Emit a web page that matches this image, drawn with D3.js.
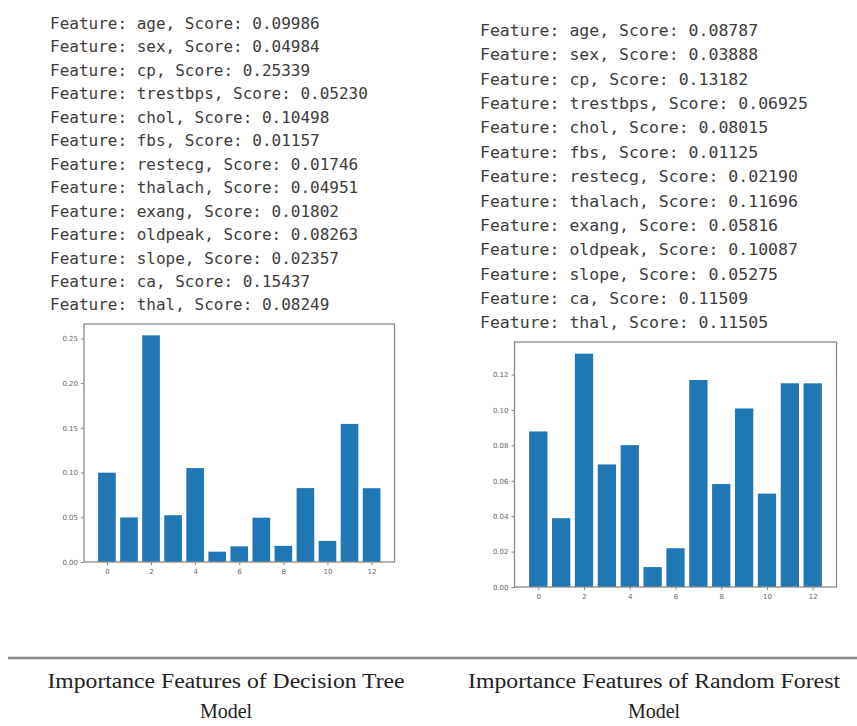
<!DOCTYPE html>
<html>
<head>
<meta charset="utf-8">
<script src="https://cdn.jsdelivr.net/npm/d3@7"></script>
<style>
  html, body { margin: 0; padding: 0; background: #fff; }
  svg { display: block; }
</style>
</head>
<body>
<svg id="chart" width="857" height="726"></svg>
<script>
// ---- data ----
const features = ["age", "sex", "cp", "trestbps", "chol", "fbs", "restecg", "thalach", "exang", "oldpeak", "slope", "ca", "thal"];
const dtScores = [0.09986, 0.04984, 0.25339, 0.05230, 0.10498, 0.01157, 0.01746, 0.04951, 0.01802, 0.08263, 0.02357, 0.15437, 0.08249];
const rfScores = [0.08787, 0.03888, 0.13182, 0.06925, 0.08015, 0.01125, 0.02190, 0.11696, 0.05816, 0.10087, 0.05275, 0.11509, 0.11505];
const dtYTicks = [0.00, 0.05, 0.10, 0.15, 0.20, 0.25];
const rfYTicks = [0.00, 0.02, 0.04, 0.06, 0.08, 0.10, 0.12];
const xTicks = [0, 2, 4, 6, 8, 10, 12];
const captions = [
  ["Importance Features of Decision Tree", "Model"],
  ["Importance Features of Random Forest", "Model"]
];

const svg = d3.select("#chart");
const fmt = d3.format(".5f");

function textBlock(scores, x, y0, step, size) {
  const g = svg.append("g");
  g.selectAll("text").data(features).join("text")
    .attr("x", x)
    .attr("y", (d, i) => y0 + i * step)
    .attr("font-family", "'DejaVu Sans Mono', monospace")
    .attr("font-size", size)
    .attr("fill", "#3c3c3c")
    .text((d, i) => `Feature: ${d}, Score: ${fmt(scores[i])}`);
}

function barChart(scores, yTicks, left, right, top, bottom, xLabelY) {
  const n = scores.length;
  const x = d3.scaleLinear().domain([-0.4 - 0.05 * (n - 1 + 0.8), n - 1 + 0.4 + 0.05 * (n - 1 + 0.8)]).range([left, right]);
  const y = d3.scaleLinear().domain([0, d3.max(scores) * 1.05]).range([bottom, top]);
  const g = svg.append("g");
  g.selectAll("rect.bar").data(scores).join("rect")
    .attr("class", "bar")
    .attr("x", (d, i) => x(i - 0.4))
    .attr("width", (d, i) => x(i + 0.4) - x(i - 0.4))
    .attr("y", d => y(d))
    .attr("height", d => y(0) - y(d))
    .attr("fill", "#1f77b4");
  // frame
  g.append("rect")
    .attr("x", left).attr("y", top)
    .attr("width", right - left).attr("height", bottom - top)
    .attr("fill", "none").attr("stroke", "#8a8a8a").attr("stroke-width", 1.3);
  const yAxis = d3.axisLeft(y).tickValues(yTicks).tickFormat(d3.format(".2f")).tickSize(3).tickPadding(3);
  const ya = g.append("g").attr("transform", `translate(${left},0)`).call(yAxis);
  ya.select(".domain").remove();
  ya.selectAll("line").attr("stroke", "#8a8a8a");
  ya.selectAll("text").attr("font-family", "'DejaVu Sans', sans-serif").attr("font-size", 7).attr("fill", "#666");
  const xAxis = d3.axisBottom(x).tickValues(xTicks).tickFormat(d3.format("d")).tickSize(3).tickPadding(4);
  const xa = g.append("g").attr("transform", `translate(0,${bottom})`).call(xAxis);
  xa.select(".domain").remove();
  xa.selectAll("line").attr("stroke", "#8a8a8a");
  xa.selectAll("text").attr("font-family", "'DejaVu Sans', sans-serif").attr("font-size", 7).attr("fill", "#666");
}

textBlock(dtScores, 50, 29, 23.45, 16);
textBlock(rfScores, 480, 36, 24.36, 16.5);

barChart(dtScores, dtYTicks, 84, 394.5, 324, 562);
barChart(rfScores, rfYTicks, 514.5, 836.5, 342, 587);

// separator line
svg.append("line")
  .attr("x1", 8).attr("x2", 857).attr("y1", 658).attr("y2", 658)
  .attr("stroke", "#8c8c8c").attr("stroke-width", 2.5);

// captions
const capPos = [{ cx: 226, w: 357 }, { cx: 654, w: 372 }];
captions.forEach((lines, k) => {
  svg.append("text")
    .attr("x", capPos[k].cx - capPos[k].w / 2)
    .attr("y", 688)
    .attr("font-family", "'Liberation Serif', serif")
    .attr("font-size", 20)
    .attr("fill", "#222")
    .attr("textLength", capPos[k].w)
    .attr("lengthAdjust", "spacingAndGlyphs")
    .text(lines[0]);
  svg.append("text")
    .attr("x", capPos[k].cx)
    .attr("y", 718)
    .attr("text-anchor", "middle")
    .attr("font-family", "'Liberation Serif', serif")
    .attr("font-size", 20)
    .attr("fill", "#222")
    .text(lines[1]);
});
</script>
</body>
</html>
